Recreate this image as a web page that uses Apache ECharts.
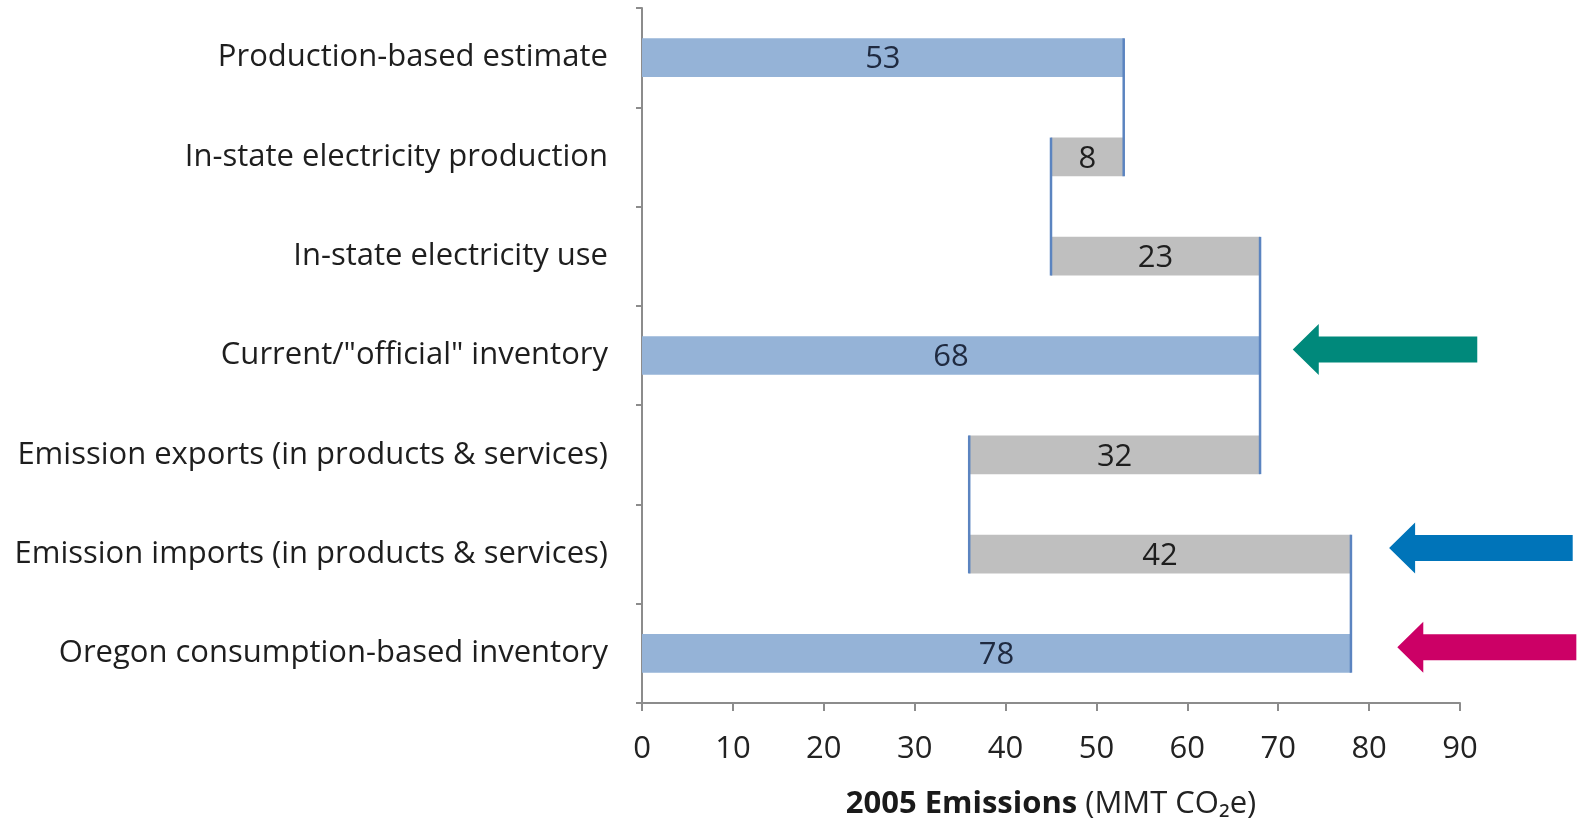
<!DOCTYPE html>
<html><head><meta charset="utf-8">
<script src="https://cdn.jsdelivr.net/npm/echarts@6/dist/echarts.min.js"></script>
<style>html,body{margin:0;padding:0;background:#fff}#c{width:1583px;height:821px}</style>
</head><body><div id="c"></div>
<script>
// ---- data ----
const categories = [
  'Production-based estimate',
  'In-state electricity production',
  'In-state electricity use',
  'Current/"official" inventory',
  'Emission exports (in products & services)',
  'Emission imports (in products & services)',
  'Oregon consumption-based inventory'
];
const barStart = [0, 45, 45, 0, 36, 36, 0];
const barValue = [53, 8, 23, 68, 32, 42, 78];
const barKind = ['total', 'change', 'change', 'total', 'change', 'change', 'total'];
const xMin = 0, xMax = 90, xStep = 10;
const connectorX = [53, 45, 68, 36, 78];
const connectorFrom = [0, 1, 2, 4, 5];
const connectorTo = [1, 2, 4, 5, 6];
const arrowRow = [3, 5, 6];
const arrowTip = [71.6, 82.2, 83.1];
const arrowTail = [91.9, 102.4, 102.8];

// ---- styles ----
const FONT = '"Open Sans", "Noto Sans", sans-serif';
const kindFill = { total: '#95B3D7', change: '#BFBFBF' };
const arrowFill = ['#00897B', '#0074B9', '#CC0066'];
const BAR_FRAC = 0.39;

const barData = barStart.map((s, i) => [s, s + barValue[i], i, barValue[i]]);
const connData = connectorX.map((x, i) => [x, connectorFrom[i], connectorTo[i]]);
const arrowData = arrowRow.map((r, i) => [arrowTip[i], arrowTail[i], r, i]);

const chart = echarts.init(document.getElementById('c'), null, { renderer: 'canvas' });
chart.setOption({
  animation: false,
  backgroundColor: '#fff',
  grid: { left: 642, right: 123, top: 8, bottom: 118, containLabel: false, outerBoundsMode: 'none' },
  xAxis: {
    type: 'value', min: xMin, max: xMax, interval: xStep,
    splitLine: { show: false },
    axisLine: { show: true, lineStyle: { color: '#8C8C8C', width: 2 } },
    axisTick: { show: true, length: 8, lineStyle: { color: '#8C8C8C', width: 2 } },
    axisLabel: { fontFamily: FONT, fontSize: 31, color: '#222', margin: 31 },
    name: '{b|2005 Emissions} (MMT CO₂e)',
    nameLocation: 'middle', nameGap: 86,
    nameTextStyle: {
      fontFamily: FONT, fontSize: 31, color: '#222',
      rich: { b: { fontFamily: FONT, fontSize: 31, fontWeight: 'bold', color: '#1a1a1a' } }
    }
  },
  yAxis: {
    type: 'category', data: categories, inverse: true,
    axisLine: { show: true, lineStyle: { color: '#8C8C8C', width: 2 } },
    axisTick: { show: true, length: 6, lineStyle: { color: '#8C8C8C', width: 2 } },
    axisLabel: { fontFamily: FONT, fontSize: 31, color: '#1e1e1e', margin: 34 }
  },
  series: [
    {
      type: 'custom',
      data: barData,
      encode: { x: [0, 1], y: 2 },
      renderItem: function (params, api) {
        const row = api.value(2);
        const a = api.coord([api.value(0), row]);
        const b = api.coord([api.value(1), row]);
        const h = api.size([0, 1])[1] * BAR_FRAC;
        const kind = barKind[params.dataIndex];
        return {
          type: 'group',
          children: [
            { type: 'rect', shape: { x: a[0], y: a[1] - h / 2, width: b[0] - a[0], height: h },
              style: { fill: kindFill[kind] } },
            { type: 'text', x: (a[0] + b[0]) / 2, y: a[1] + 2,
              style: { text: String(api.value(3)), fontFamily: FONT, fontSize: 31,
                fill: kind === 'total' ? '#1F2A40' : '#1e1e1e', align: 'center', verticalAlign: 'middle' } }
          ]
        };
      },
      z: 2
    },
    {
      type: 'custom',
      data: connData,
      encode: { x: 0, y: [1, 2] },
      renderItem: function (params, api) {
        const x = api.value(0);
        const top = api.coord([x, api.value(1)]);
        const bot = api.coord([x, api.value(2)]);
        const h = api.size([0, 1])[1] * BAR_FRAC;
        return {
          type: 'line',
          shape: { x1: top[0], y1: top[1] - h / 2, x2: bot[0], y2: bot[1] + h / 2 },
          style: { stroke: '#5B84C0', lineWidth: 2.5 }
        };
      },
      z: 3
    },
    {
      type: 'custom',
      data: arrowData,
      clip: false,
      encode: { x: [0, 1], y: 2 },
      renderItem: function (params, api) {
        const row = api.value(2);
        const t = api.coord([api.value(0), row]);
        const e = api.coord([api.value(1), row]);
        const cy = t[1] - 6;
        const hl = 26, hh = 25.5, sh = 13;
        return {
          type: 'polygon',
          shape: { points: [
            [t[0], cy], [t[0] + hl, cy - hh], [t[0] + hl, cy - sh], [e[0], cy - sh],
            [e[0], cy + sh], [t[0] + hl, cy + sh], [t[0] + hl, cy + hh]
          ] },
          style: { fill: arrowFill[api.value(3)] }
        };
      },
      z: 4
    }
  ]
});
</script>
</body></html>
